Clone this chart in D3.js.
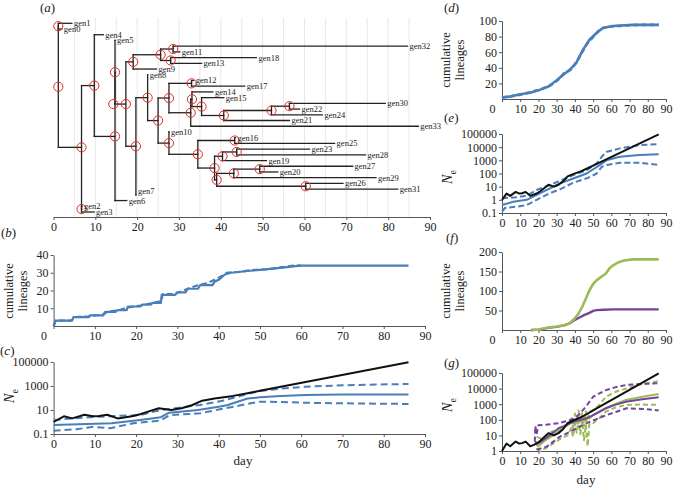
<!DOCTYPE html>
<html><head><meta charset="utf-8">
<script src="https://cdn.jsdelivr.net/npm/d3@7"></script>
<style>body{margin:0;background:#fff}svg{display:block}text{font-family:"Liberation Serif","Times New Roman",serif;fill:#222}</style>
</head><body><svg id="c" width="674" height="487"></svg>
<script>
// ---------------- DATA ----------------
// (a) tree: tips in top-to-bottom order with sampling day
const treeTips = ["gen1","gen0","gen4","gen5","gen32","gen11","gen18","gen13","gen9","gen8","gen12","gen17","gen14","gen15","gen30","gen22","gen24","gen21","gen33","gen10","gen16","gen25","gen23","gen28","gen19","gen27","gen20","gen29","gen26","gen31","gen7","gen6","gen2","gen3"];
const tipDays = [4.4,2.0,11.9,14.7,84.6,30.2,48.5,35.4,24.6,22.5,33.5,45.7,38.1,40.7,79.3,58.8,64.3,56.4,87.2,27.6,43.5,67.2,61.2,74.6,50.9,71.5,53.6,77.1,69.2,82.3,19.7,17.5,6.8,9.7];
// internal nodes: name, day, children
const nodeNames = ["root","A","N1","B","N2","N3b","N3a","N4","N5","Nj","Nh","Ni","N6","N7","N8","N9","N11","Np","No","Nn","Nm","Nl","Nk","N10","N13","N14","Ng","Nb","Na","Nf","Nd","Nc","Ne"];
const nodeDays = [1.15,1.15,6.7,6.7,9.75,14.7,14.7,17.3,19.05,25.6,28.6,28.0,19.7,22.5,25.0,27.6,33.0,32.8,33.1,35.4,40.7,52.1,56.4,27.6,34.5,43.3,38.5,40.4,43.8,39.0,43.1,49.3,60.3];
const nodeKids = [["A","N1"],["gen1","gen0"],["N2","B"],["gen2","gen3"],["gen4","N3b"],["N3a","gen6"],["gen5","N4"],["N5","N6"],["Nj","gen9"],["Nh","Ni"],["gen32","gen11"],["gen18","gen13"],["N7","gen7"],["gen8","N8"],["N9","N10"],["N11","Np"],["gen12","gen17"],["No","gen33"],["gen14","Nn"],["gen15","Nm"],["Nl","gen21"],["Nk","gen24"],["gen30","gen22"],["gen10","N13"],["N14","Ng"],["gen16","gen25"],["Nb","Nf"],["Na","gen19"],["gen23","gen28"],["Nd","Ne"],["Nc","gen29"],["gen27","gen20"],["gen26","gen31"]];
const extraCircles = [["N4",14.3]];

// x ticks (days)
const dayTicks = [0,10,20,30,40,50,60,70,80,90];

// (b) cumulative lineages
const bSolid = [[0,0],[0.5,3],[4.4,3],[4.8,5],[8.6,5],[8.8,6],[12,6],[12.5,8],[15,8],[15.5,9],[17.7,9],[18,11],[21,11],[21.5,12],[23.5,12],[24,13],[26,13],[26.2,17.5],[29.5,17.5],[30,19],[32,19],[32.5,21],[35,21],[35.5,23],[38.5,23],[39,25],[40,26],[41.5,29],[43,30],[47,31],[52,32],[56,33],[59.7,34],[86,34]];
const bDash = [[0,0],[0.5,3],[4.4,3],[5,5],[8.5,5.5],[12,6.5],[13,8],[16,9],[18,10.5],[21,11.5],[24,13],[26,14],[26.5,18],[29,18],[31,19.5],[33,21.5],[35,23],[37,24],[39,26],[41,28.5],[42,30],[45,30.5],[48,31.5],[52,32],[55,33],[58,34],[60,34]];
const bTicks = [10,20,30,40];

// shared black Ne line
const blackNe = [[0,1],[2.5,3],[4.5,2],[7.5,4],[9.5,3],[11,3.2],[13,4],[15.5,2],[19,3],[21,4.5],[25.5,14],[28.5,10],[31,14],[33.5,25],[36,60],[39,90],[43.5,150],[47,250],[50,400],[86,95000]];

// (c) Ne
const cMid = [[0,0.55],[6,0.65],[14,0.8],[21,1.5],[26,2.5],[28,6],[35,10],[40,19],[42,25],[47,90],[50,115],[55,150],[61,180],[70,195],[86,200]];
const cHi = [[0,1.5],[11,2.8],[21,3.8],[26,10],[35.5,26],[41,60],[47,215],[50,380],[55,600],[61,870],[70,1150],[86,1480]];
const cLo = [[0,0.19],[5.6,0.25],[9.6,0.4],[13.7,0.3],[19.3,0.78],[25.8,1.3],[28.2,3.8],[35.5,5.3],[40.3,11.4],[47,32],[50,49],[55,47],[61,40],[70,36],[86,32]];
const cTicks = [0.1,10,1000,100000];

// (d) cumulative lineages
const dSolid = [[0,2],[4,3],[10,6],[15.5,8],[21,12],[25.5,16],[30,24],[33.6,31],[37,37],[40.7,46],[44.4,63],[48,76],[51.6,84],[55.3,91],[60.7,93.5],[71.6,95],[86,95]];
const dDash = [[0,2],[5,3.5],[10,5.5],[16,9],[22,13],[27,18],[31,25],[34,33],[38,38],[41,48],[44,60],[47,72],[51,82],[54,90],[58,92.5],[66,94],[75,95],[86,95]];
const dTicks = [20,40,60,80,100];

// (e) Ne
const eMid = [[0,0.4],[6.2,0.72],[13.5,1],[19,2.4],[26.3,7.5],[31.8,18],[39.1,42],[46.5,100],[53.6,430],[57.3,1000],[64.6,1850],[75.5,2500],[86,2900]];
const eHi = [[0,1.3],[8.3,1.6],[13.5,2.1],[19,5.6],[26.3,13.5],[31.8,28],[39.1,76],[46.5,180],[52,590],[54.7,1860],[57.5,4500],[64.8,8100],[75.8,14500],[86,17000]];
const eLo = [[0,0.13],[1.8,0.25],[8,0.3],[13.5,0.4],[19,1],[26.3,3.2],[31.8,6.3],[39.1,20],[46.5,43],[52,100],[54.7,320],[57.5,440],[64.8,660],[75.8,660],[86,440]];
const eTicks = [0.1,1,10,100,1000,10000,100000];

// (f) cumulative lineages, two groups
const fGreen = [[16,0],[20,1],[26,7],[30,9],[34,12],[37,17],[40,30],[42,42],[44,59],[46,80],[48,102],[50,118],[52,128],[55,138],[57,145],[59,158],[61,166],[64,174],[67,178],[72,181],[86,181]];
const fPurple = [[16,0],[20,1],[26,6],[30,8],[34,12],[37,17],[40,26],[42.5,32],[45,38],[48,44],[50,49],[52,51],[56,52],[61,53],[86,53]];
const fTicks = [50,100,150,200];

// (g) Ne, two groups
const gPurpleMid = [[18,4],[20,3],[25,8],[31,28],[40,80],[46,120],[50,200],[57,550],[62,900],[68,1450],[77,2050],[86,2750]];
const gPurpleHi = [[18,4],[18.3,40],[19,12],[20,45],[25,50],[31,60],[38,100],[42,200],[46,690],[50,3000],[57,8000],[62,12000],[68,17000],[77,20000],[86,22000]];
const gPurpleLo = [[19,1.2],[24.5,1.9],[31.6,8],[40,25],[46.2,60],[57.4,200],[68.4,550],[77,500],[86,400]];
const gGreenMid = [[18,3],[20,2],[24,5],[28,10],[32,22],[36,45],[38,80],[40,50],[41,120],[42,60],[43,150],[44,50],[45,100],[46,70],[47,150],[48,120],[50,200],[54,350],[57,550],[62,1000],[68,1850],[77,3000],[86,4500]];
const gGreenHi = [[19,8],[22,6],[25,12],[30,25],[35,45],[38,120],[39,30],[40,250],[41,60],[42,400],[43,80],[44,300],[45,40],[46,350],[47,120],[48,300],[50,400],[53,800],[57,3000],[62,6000],[68,10000],[77,20000],[86,30000]];
const gGreenLo = [[19,1.5],[21,1],[24,1.5],[28,3],[32,6],[36,10],[38,30],[39,8],[40,60],[41,15],[42,100],[43,12],[44,80],[45,5],[46,50],[47,2],[48,60],[50,60],[54,150],[57,330],[62,600],[68,900],[77,950],[86,900]];
const gTicks = [1,10,100,1000,10000,100000];

// ---------------- DRAW ----------------
const svg = d3.select("#c");
const BLUE="#4a7ebb", GREEN="#9bbb59", PURPLE="#74449c", BLACK="#111", RED="#e32b22";
const fmtNum = v => String(v);

function xAxis(x, y0, shiftZero){
  const g = svg.append("g").attr("transform",`translate(0,${y0})`)
    .call(d3.axisBottom(x).tickValues(dayTicks).tickSize(3).tickSizeOuter(0).tickPadding(2));
  g.selectAll("path,line").attr("stroke","#555");
  g.selectAll("text").attr("font-size",12).attr("fill","#222");
  if(shiftZero) g.selectAll(".tick").filter(d=>d===0).select("text").attr("x",-10);
}
function yAxis(y, x0, ticks){
  const g = svg.append("g").attr("transform",`translate(${x0},0)`)
    .call(d3.axisLeft(y).tickValues(ticks).tickFormat(fmtNum).tickSize(3).tickSizeOuter(0).tickPadding(2));
  g.selectAll("path,line").attr("stroke","#555");
  g.selectAll("text").attr("font-size",12).attr("fill","#222");
}
function drawLine(x, y, data, color, width, dash){
  svg.append("path").datum(data)
    .attr("d", d3.line().x(d=>x(d[0])).y(d=>y(d[1])))
    .attr("fill","none").attr("stroke",color).attr("stroke-width",width)
    .attr("stroke-dasharray",dash||null).attr("stroke-linejoin","round");
}
function panelLabel(ch, px, py){
  const t = svg.append("text").attr("x",px).attr("y",py).attr("font-size",13);
  t.append("tspan").text("(");
  t.append("tspan").attr("font-style","italic").text(ch);
  t.append("tspan").text(")");
}
function cumTitle(cx, cy){
  ["cumulative","lineages"].forEach((s,i)=>{
    svg.append("text").attr("transform",`translate(${cx+i*14},${cy}) rotate(-90)`)
      .attr("text-anchor","middle").attr("font-size",12.5).text(s);
  });
}
function neTitle(cx, cy){
  const t = svg.append("text").attr("transform",`translate(${cx},${cy}) rotate(-90)`)
    .attr("text-anchor","middle").attr("font-size",14);
  t.append("tspan").attr("font-style","italic").text("N");
  t.append("tspan").attr("font-size",10).attr("dy",4).text("e");
}

// ---- (a) tree ----
const xA = d3.scaleLinear().domain([0,90]).range([53.5,430]);
const yT = d3.scaleLinear().domain([0,treeTips.length-1]).range([23.3,212]);
svg.append("g").selectAll("line").data(d3.range(5,90,5)).join("line")
  .attr("x1",d=>xA(d)).attr("x2",d=>xA(d)).attr("y1",18).attr("y2",217)
  .attr("stroke","#e2e2e2").attr("stroke-width",0.8);
const nodes = new Map();
treeTips.forEach((n,i)=>nodes.set(n,{name:n,day:tipDays[i],tip:true,row:i}));
nodeNames.forEach((n,i)=>nodes.set(n,{name:n,day:nodeDays[i],tip:false,kids:nodeKids[i]}));
function rowOf(n){const o=nodes.get(n); if(o.row!==undefined) return o.row; const rs=o.kids.map(rowOf); o.row=(rs[0]+rs[rs.length-1])/2; return o.row;}
rowOf("root");
const segs=[];
nodeNames.forEach(n=>{
  const o=nodes.get(n);
  const rs=o.kids.map(k=>nodes.get(k).row);
  segs.push([o.day,rs[0],o.day,rs[rs.length-1]]);
  o.kids.forEach(k=>{const c=nodes.get(k); segs.push([o.day,c.row,c.day,c.row]);});
});
svg.append("g").selectAll("line").data(segs).join("line")
  .attr("x1",d=>xA(d[0])).attr("y1",d=>yT(d[1])).attr("x2",d=>xA(d[2])).attr("y2",d=>yT(d[3]))
  .attr("stroke","#222").attr("stroke-width",1.3).attr("stroke-linecap","square");
const circ = nodeNames.map(n=>[nodes.get(n).day,nodes.get(n).row]).concat(extraCircles.map(e=>[e[1],nodes.get(e[0]).row]));
svg.append("g").selectAll("circle").data(circ).join("circle")
  .attr("cx",d=>xA(d[0])).attr("cy",d=>yT(d[1])).attr("r",4.6)
  .attr("fill","none").attr("stroke",RED).attr("stroke-width",1);
svg.append("g").selectAll("text").data(treeTips).join("text")
  .attr("x",n=>xA(nodes.get(n).day)+2).attr("y",n=>yT(nodes.get(n).row)).attr("dy",n=>n==="gen7"?"-0.1em":"0.35em")
  .attr("font-size",8.5).attr("fill","#333").text(n=>n);
xAxis(xA,217,false);
panelLabel("a",40,12);

// ---- (b) ----
const xL = d3.scaleLinear().domain([0,90]).range([53.6,425]);
const yB = d3.scaleLinear().domain([0,40]).range([326,255]);
xAxis(xL,326,true); yAxis(yB,53.6,bTicks);
drawLine(xL,yB,bDash,BLUE,2.2,"6,3");
drawLine(xL,yB,bSolid,BLUE,2.2);
panelLabel("b",1,237);
cumTitle(13,291);

// ---- (c) ----
const yC = d3.scaleLog().domain([0.1,100000]).range([434,362]);
xAxis(xL,434,false); yAxis(yC,53.6,cTicks);
drawLine(xL,yC,cHi,BLUE,2,"7,4");
drawLine(xL,yC,cLo,BLUE,2,"7,4");
drawLine(xL,yC,cMid,BLUE,2);
drawLine(xL,yC,blackNe,BLACK,2);
panelLabel("c",0,355);
neTitle(14,396);
svg.append("text").attr("x",243).attr("y",465).attr("text-anchor","middle").attr("font-size",13).text("day");

// ---- (d) ----
const xR = d3.scaleLinear().domain([0,90]).range([502,666]);
const yD = d3.scaleLinear().domain([0,100]).range([99,21]);
xAxis(xR,99,true); yAxis(yD,502,dTicks);
drawLine(xR,yD,dSolid,BLUE,2.6);
drawLine(xR,yD,dDash,BLUE,2.6,"5,3");
panelLabel("d",444,12);
cumTitle(450,60);

// ---- (e) ----
const yE = d3.scaleLog().domain([0.1,100000]).range([213,134]);
xAxis(xR,213,false); yAxis(yE,502,eTicks);
drawLine(xR,yE,eHi,BLUE,2,"6,3");
drawLine(xR,yE,eLo,BLUE,2,"6,3");
drawLine(xR,yE,eMid,BLUE,2);
drawLine(xR,yE,blackNe,BLACK,2);
panelLabel("e",444,122);
neTitle(452,177);

// ---- (f) ----
const yF = d3.scaleLinear().domain([0,200]).range([330,252]);
xAxis(xR,330,true); yAxis(yF,502,fTicks);
drawLine(xR,yF,fPurple,PURPLE,2.4);
drawLine(xR,yF,fGreen,GREEN,2.6);
panelLabel("f",446,242);
cumTitle(450,291);

// ---- (g) ----
const yG = d3.scaleLog().domain([1,100000]).range([451,373]).clamp(true);
xAxis(xR,451,false); yAxis(yG,502,gTicks);
drawLine(xR,yG,gGreenHi,GREEN,2,"5,3");
drawLine(xR,yG,gGreenLo,GREEN,2,"5,3");
drawLine(xR,yG,gPurpleHi,PURPLE,2,"5,3");
drawLine(xR,yG,gPurpleLo,PURPLE,2,"5,3");
drawLine(xR,yG,gGreenMid,GREEN,2);
drawLine(xR,yG,gPurpleMid,PURPLE,2);
drawLine(xR,yG,blackNe.filter(d=>d[1]>=1),BLACK,2);
panelLabel("g",444,367);
neTitle(452,405);
svg.append("text").attr("x",586).attr("y",484).attr("text-anchor","middle").attr("font-size",13).text("day");
</script></body></html>
